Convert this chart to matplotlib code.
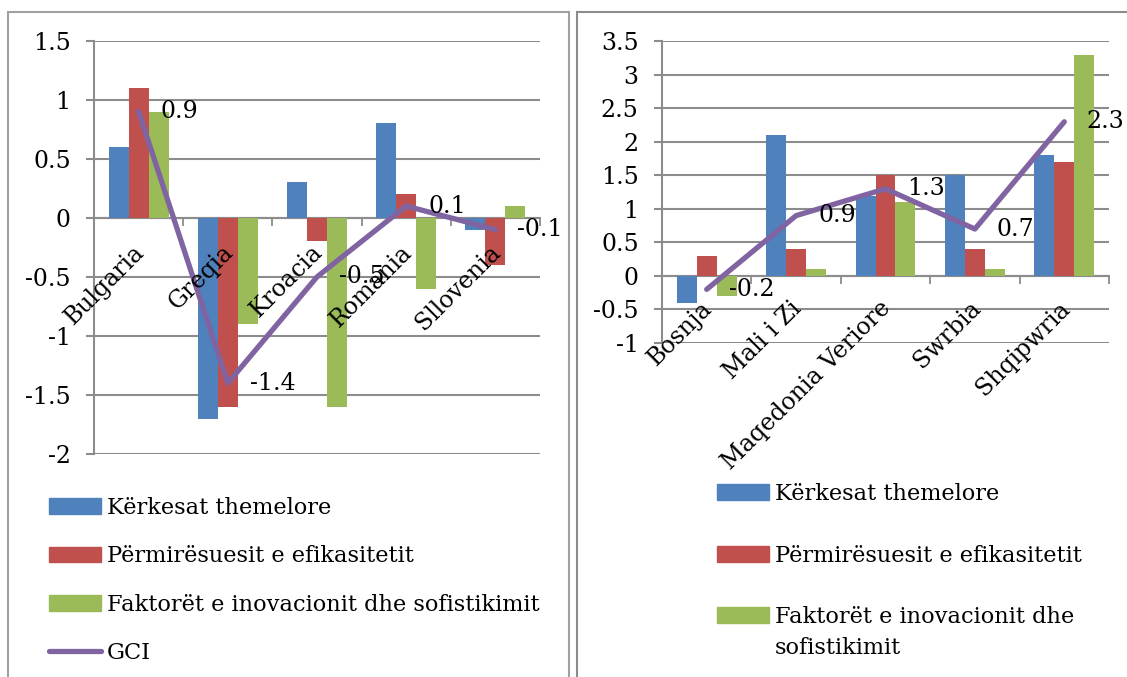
import matplotlib
matplotlib.use('Agg')
import matplotlib.pyplot as plt
from matplotlib.patches import Rectangle, Patch
from matplotlib.lines import Line2D
from matplotlib.transforms import offset_copy

# ---------------- data ----------------
left_countries = ['Bulgaria', 'Greqia', 'Kroacia', 'Romania', 'Sllovenia']
left_basic = [0.6, -1.7, 0.3, 0.8, -0.1]
left_eff = [1.1, -1.6, -0.2, 0.2, -0.4]
left_innov = [0.9, -0.9, -1.6, -0.6, 0.1]
left_gci = [0.9, -1.4, -0.5, 0.1, -0.1]

right_countries = ['Bosnja', 'Mali i Zi', 'Maqedonia Veriore', 'Swrbia', 'Shqipwria']
right_basic = [-0.4, 2.1, 1.2, 1.5, 1.8]
right_eff = [0.3, 0.4, 1.5, 0.4, 1.7]
right_innov = [-0.3, 0.1, 1.1, 0.1, 3.3]
right_gci = [-0.2, 0.9, 1.3, 0.7, 2.3]

series_labels = ['Kërkesat themelore', 'Përmirësuesit e efikasitetit',
                 'Faktorët e inovacionit dhe sofistikimit', 'GCI']

left_ticks = [-2, -1.5, -1, -0.5, 0, 0.5, 1, 1.5]
left_tick_labels = ['-2', '-1.5', '-1', '-0.5', '0', '0.5', '1', '1.5']
right_ticks = [-1, -0.5, 0, 0.5, 1, 1.5, 2, 2.5, 3, 3.5]
right_tick_labels = ['-1', '-0.5', '0', '0.5', '1', '1.5', '2', '2.5', '3', '3.5']

# ---------------- style ----------------
W, H = 1127, 677
C_BLUE, C_RED, C_GREEN, C_PURPLE = '#4F81BD', '#C0504D', '#9BBB59', '#8064A2'
GRID = '#8C8C8C'
FONT = 'DejaVu Serif'
TICK_FS = 17
LEG_FS = 16.2
PX = 100 / 72  # pixels per point

plt.rcParams['font.family'] = [FONT]

fig = plt.figure(figsize=(W / 100, H / 100), dpi=100)


def px_axes(x0, y0, x1, y1):
    return fig.add_axes([x0 / W, 1 - y1 / H, (x1 - x0) / W, (y1 - y0) / H])


def draw_panel(ax, cats, basic, eff, innov, gci, ticks, tick_labels, lab_dy):
    n = len(cats)
    xs = list(range(n))
    w = 0.2237
    ax.bar([x - w for x in xs], basic, width=w, color=C_BLUE, zorder=2)
    ax.bar(xs, eff, width=w, color=C_RED, zorder=2)
    ax.bar([x + w for x in xs], innov, width=w, color=C_GREEN, zorder=2)
    ax.plot(xs, gci, color=C_PURPLE, lw=3.8, solid_capstyle='round',
            solid_joinstyle='round', zorder=4)
    ax.set_xlim(-0.5, n - 0.5)
    ax.set_ylim(ticks[0], ticks[-1])
    ax.set_yticks(ticks)
    ax.set_yticklabels(tick_labels)
    ax.yaxis.grid(True, color=GRID, lw=1.5, zorder=0)
    ax.set_axisbelow(True)
    for s in ['top', 'right']:
        ax.spines[s].set_visible(False)
    ax.spines['left'].set_color(GRID)
    ax.spines['left'].set_linewidth(1.5)
    ax.spines['bottom'].set_position(('data', 0))
    ax.spines['bottom'].set_color(GRID)
    ax.spines['bottom'].set_linewidth(1.5)
    ax.spines['bottom'].set_zorder(1)
    ax.set_xticks([x - 0.5 for x in range(n + 1)])
    ax.set_xticklabels([])
    ax.tick_params(axis='x', direction='out', length=5.8, width=1.3, color=GRID)
    ax.tick_params(axis='y', direction='out', length=5.8, width=1.5, color=GRID,
                   labelsize=TICK_FS, pad=11)
    # category labels
    lab_tr = offset_copy(ax.transData, fig=fig, x=2 / PX, y=-lab_dy / PX, units='points')
    for x, c in zip(xs, cats):
        ax.text(x, 0, c, transform=lab_tr, rotation=45, rotation_mode='anchor',
                ha='right', va='center', fontsize=TICK_FS, zorder=5, clip_on=False)
    # value labels
    val_tr = offset_copy(ax.transData, fig=fig, x=22 / PX, y=0, units='points')
    for x, v in zip(xs, gci):
        ax.text(x, v, f'{v:g}', transform=val_tr, ha='left', va='center',
                fontsize=TICK_FS, zorder=5, clip_on=False)


axL = px_axes(94, 40.7, 540, 454)
draw_panel(axL, left_countries, left_basic, left_eff, left_innov, left_gci,
           left_ticks, left_tick_labels, 31)

axR = px_axes(662, 41.3, 1109, 343)
draw_panel(axR, right_countries, right_basic, right_eff, right_innov, right_gci,
           right_ticks, right_tick_labels, 29)

# panel borders
fig.add_artist(Rectangle((8 / W, -0.1), (569 - 8) / W, 1.1 - 12 / H,
                         transform=fig.transFigure, fill=False, ec='#A0A0A0', lw=1.5))
fig.add_artist(Rectangle((577 / W, -0.1), (1140 - 577) / W, 1.1 - 12 / H,
                         transform=fig.transFigure, fill=False, ec='#8C8C8C', lw=1.5))

# legends
hl = 52 / (LEG_FS * PX)
htp = 6 / (LEG_FS * PX)
handles = [Patch(color=C_BLUE), Patch(color=C_RED), Patch(color=C_GREEN),
           Line2D([], [], color=C_PURPLE, lw=3.8, solid_capstyle='round')]
fig.legend(handles, series_labels, loc='upper left', bbox_to_anchor=(49 / W, 1 - 497 / H),
           frameon=False, fontsize=LEG_FS, handlelength=hl, handleheight=0.7,
           handletextpad=htp, labelspacing=1.17, borderpad=0, borderaxespad=0)

right_leg_labels = [series_labels[0], series_labels[1], 'Faktorët e inovacionit dhe']
fig.legend(handles[:3], right_leg_labels, loc='upper left',
           bbox_to_anchor=(717 / W, 1 - 483 / H),
           frameon=False, fontsize=LEG_FS, handlelength=hl, handleheight=0.7,
           handletextpad=htp, labelspacing=1.76, borderpad=0, borderaxespad=0)
fig.text(775 / W, 1 - 648 / H, 'sofistikimit', fontsize=LEG_FS, ha='left', va='center')

fig.savefig('out.png', dpi=100)
